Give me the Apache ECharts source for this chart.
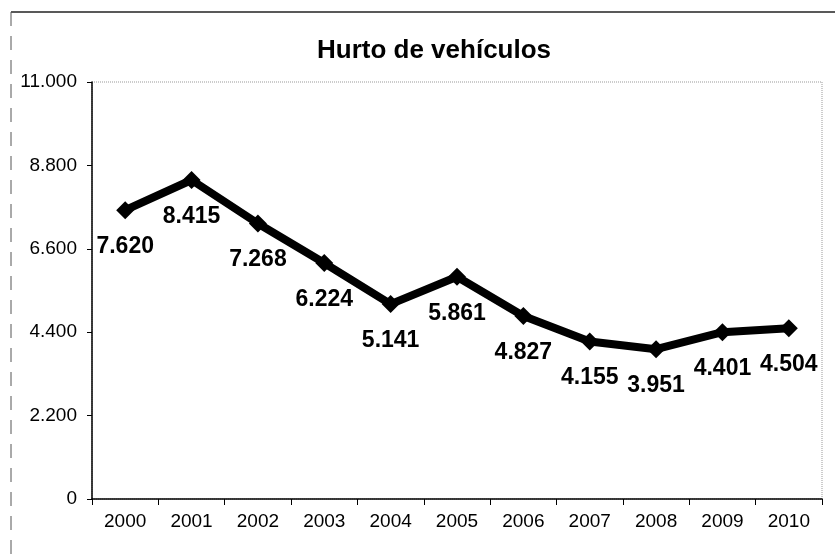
<!DOCTYPE html>
<html>
<head>
<meta charset="utf-8">
<script src="https://cdn.jsdelivr.net/npm/echarts@6/dist/echarts.min.js"></script>
<style>html,body{margin:0;padding:0;background:#fff}#c{width:835px;height:554px}</style>
</head>
<body>
<div id="c"></div>
<script>
const categories = ['2000','2001','2002','2003','2004','2005','2006','2007','2008','2009','2010'];
const values = [7620, 8415, 7268, 6224, 5141, 5861, 4827, 4155, 3951, 4401, 4504];
const titleText = 'Hurto de vehículos';

const fmt = v => {
  const s = String(Math.round(v));
  return s.replace(/\B(?=(\d{3})+(?!\d))/g, '.');
};

const chart = echarts.init(document.getElementById('c'));
chart.setOption({
  animation: false,
  backgroundColor: '#fff',
  title: {
    text: titleText,
    left: 312, top: 33,
    textStyle: {fontFamily: 'Liberation Sans, Arial, sans-serif', fontWeight: 'bold', fontSize: 26, color: '#000'}
  },
  grid: {
    left: 92, right: 13, top: 82, bottom: 55,
    show: true, borderColor: '#999', borderWidth: 1, borderType: 'dotted'
  },
  graphic: [
    {type: 'line', shape: {x1: 11, y1: 12, x2: 835, y2: 12}, style: {stroke: '#222', lineWidth: 1.5}},
    {type: 'line', shape: {x1: 11, y1: 12, x2: 11, y2: 554}, style: {stroke: '#555', lineWidth: 1, lineDash: [14, 10]}}
  ],
  xAxis: {
    type: 'category',
    data: categories,
    boundaryGap: true,
    axisLine: {lineStyle: {color: '#000', width: 1.5}},
    axisTick: {show: true, length: 6, lineStyle: {color: '#000'}},
    axisLabel: {color: '#000', fontSize: 19, margin: 13, fontFamily: 'Liberation Sans, Arial, sans-serif'},
    splitLine: {show: false}
  },
  yAxis: {
    type: 'value',
    min: 0, max: 11000, interval: 2200,
    axisLine: {show: true, lineStyle: {color: '#000', width: 1.5}},
    axisTick: {show: true, length: 5, lineStyle: {color: '#000'}},
    axisLabel: {color: '#000', fontSize: 19, margin: 15, fontFamily: 'Liberation Sans, Arial, sans-serif', formatter: fmt},
    splitLine: {show: false}
  },
  series: [{
    type: 'line',
    data: values,
    symbol: 'diamond',
    symbolSize: 18,
    itemStyle: {color: '#000'},
    lineStyle: {color: '#000', width: 8},
    label: {
      show: true, position: 'bottom', distance: 16,
      color: '#000', fontWeight: 'bold', fontSize: 23,
      fontFamily: 'Liberation Sans, Arial, sans-serif',
      formatter: p => fmt(p.value)
    }
  }]
});
</script>
</body>
</html>
